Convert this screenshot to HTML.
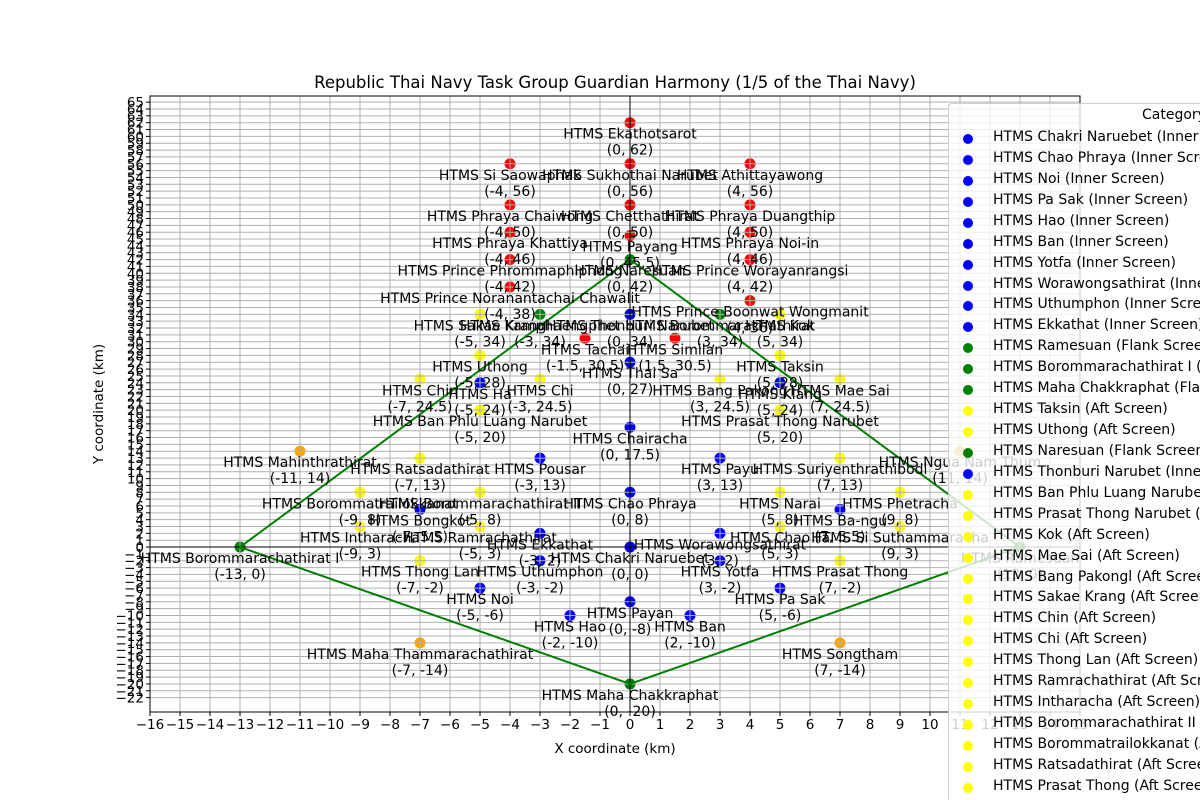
<!DOCTYPE html>
<html><head><meta charset="utf-8">
<style>
body{margin:0;background:#fff;width:1200px;height:800px;overflow:hidden;position:relative;font-family:"DejaVu Sans","Liberation Sans",sans-serif}
svg{position:absolute;left:0;top:0}
#legend{position:absolute;left:948px;top:103px;width:251px;height:696px;overflow:hidden;background:rgba(255,255,255,0.8);border:1px solid #d0d0d0;border-right:none;border-bottom:none;border-radius:4px 0 0 0;font-size:14px;color:#000}
.li{position:absolute;left:0;white-space:nowrap;height:20px}
.li span.dot{position:absolute;left:14px;top:6px;width:10px;height:10px;border-radius:50%}
.li span.t{position:absolute;left:44px;top:1px}
</style></head>
<body>
<svg id="chart" width="1200" height="800"></svg>
<div id="legend">
<div style="position:absolute;left:193px;top:3px">Category</div>
</div>
<script>
const names=["HTMS Ekathotsarot","HTMS Si Saowaphak","HTMS Sukhothai Narubet","HTMS Athittayawong","HTMS Phraya Chaiwong","HTMS Chetthathirat","HTMS Phraya Duangthip","HTMS Phraya Khattiya","HTMS Payang","HTMS Phraya Noi-in","HTMS Prince Phrommaphiphong","HTMS Naresuan","HTMS Prince Worayanrangsi","HTMS Prince Noranantachai Chawalit","HTMS Prince Boonwat Wongmanit","HTMS Sakae Krang","HTMS Kamphaengphet","HTMS Thonburi Narubet","HTMS Borommarachathirat","HTMS Kok","HTMS Tachai","HTMS Similan","HTMS Uthong","HTMS Taksin","HTMS Thai Sa","HTMS Chin","HTMS Ha","HTMS Chi","HTMS Bang Pakong","HTMS Klang","HTMS Mae Sai","HTMS Ban Phlu Luang Narubet","HTMS Prasat Thong Narubet","HTMS Chairacha","HTMS Mahinthrathirat","HTMS Ratsadathirat","HTMS Pousar","HTMS Payu","HTMS Suriyenthrathibodi","HTMS Ngua Nam Thum","HTMS Borommatrailokkanat","HTMS Borommarachathirat II","HTMS Chao Phraya","HTMS Narai","HTMS Phetracha","HTMS Bongkot","HTMS Ba-ngu","HTMS Intharacha","HTMS Ramrachathirat","HTMS Chao Fa","HTMS Si Suthammaracha","HTMS Ekkathat","HTMS Worawongsathirat","HTMS Borommarachathirat I","HTMS Ramesuan","HTMS Chakri Naruebet","HTMS Thong Lan","HTMS Uthumphon","HTMS Yotfa","HTMS Prasat Thong","HTMS Noi","HTMS Pa Sak","HTMS Payan","HTMS Hao","HTMS Ban","HTMS Maha Thammarachathirat","HTMS Songtham","HTMS Maha Chakkraphat"];
const xs=[0,-4,0,4,-4,0,4,-4,0,4,-4,0,4,-4,4,-5,-3,0,3,5,-1.5,1.5,-5,5,0,-7,-5,-3,3,5,7,-5,5,0,-11,-7,-3,3,7,11,-9,-5,0,5,9,-7,7,-9,-5,5,9,-3,3,-13,13,0,-7,-3,3,7,-5,5,0,-2,2,-7,7,0];
const ys=[62,56,56,56,50,50,50,46,45.5,46,42,42,42,38,36,34,34,34,34,34,30.5,30.5,28,28,27,24.5,24,24.5,24.5,24,24.5,20,20,17.5,14,13,13,13,13,14,8,8,8,8,8,5.5,5.5,3,3,3,3,2,2,0,0,0,-2,-2,-2,-2,-6,-6,-8,-10,-10,-14,-14,-20];
const cats=["r","r","r","r","r","r","r","r","r","r","r","g","r","r","r","y","g","b","g","y","r","r","y","y","b","y","b","y","y","b","y","y","y","b","o","y","b","b","y","o","y","y","b","y","y","b","b","y","y","y","y","b","b","g","g","b","y","b","b","y","b","b","b","b","b","o","o","g"];
const screenX=[-13,0,13,0,-13];
const screenY=[0,42,0,-20,0];
const xTicks=[-16,-15,-14,-13,-12,-11,-10,-9,-8,-7,-6,-5,-4,-3,-2,-1,0,1,2,3,4,5,6,7,8,9,10,11,12,13,14,15];
const yTicks=[];for(let v=-22;v<=65;v++)yTicks.push(v);
const legendNames=["HTMS Chakri Naruebet (Inner Screen)","HTMS Chao Phraya (Inner Screen)","HTMS Noi (Inner Screen)","HTMS Pa Sak (Inner Screen)","HTMS Hao (Inner Screen)","HTMS Ban (Inner Screen)","HTMS Yotfa (Inner Screen)","HTMS Worawongsathirat (Inner Screen)","HTMS Uthumphon (Inner Screen)","HTMS Ekkathat (Inner Screen)","HTMS Ramesuan (Flank Screen)","HTMS Borommarachathirat I (Flank Screen)","HTMS Maha Chakkraphat (Flank Screen)","HTMS Taksin (Aft Screen)","HTMS Uthong (Aft Screen)","HTMS Naresuan (Flank Screen)","HTMS Thonburi Narubet (Inner Screen)","HTMS Ban Phlu Luang Narubet (Aft Screen)","HTMS Prasat Thong Narubet (Aft Screen)","HTMS Kok (Aft Screen)","HTMS Mae Sai (Aft Screen)","HTMS Bang Pakongl (Aft Screen)","HTMS Sakae Krang (Aft Screen)","HTMS Chin (Aft Screen)","HTMS Chi (Aft Screen)","HTMS Thong Lan (Aft Screen)","HTMS Ramrachathirat (Aft Screen)","HTMS Intharacha (Aft Screen)","HTMS Borommarachathirat II (Aft Screen)","HTMS Borommatrailokkanat (Aft Screen)","HTMS Ratsadathirat (Aft Screen)","HTMS Prasat Thong (Aft Screen)"];
const legendCats=["b","b","b","b","b","b","b","b","b","b","g","g","g","y","y","g","b","y","y","y","y","y","y","y","y","y","y","y","y","y","y","y"];
const colorMap={r:"#ff0000",g:"#008000",b:"#0000ff",y:"#ffff00",o:"#ffa500"};

const L=150,R=1080,T=96,B=712,X0=-16,X1=15,Y0=-24.1,Y1=65.9;
const sx=v=>L+(v-X0)/(X1-X0)*(R-L);
const sy=v=>B-(v-Y0)/(Y1-Y0)*(B-T);
const NS="http://www.w3.org/2000/svg";
const svg=document.getElementById("chart");
function mk(tag,attrs,parent){const e=document.createElementNS(NS,tag);for(const k in attrs)e.setAttribute(k,attrs[k]);(parent||svg).appendChild(e);return e;}

const title=mk("text",{x:615,y:88,"text-anchor":"middle","font-size":"16.5"});
title.textContent="Republic Thai Navy Task Group Guardian Harmony (1/5 of the Thai Navy)";



const pts=mk("g",{});


for(let i=0;i<xs.length;i++){
  const c=mk("circle",{cx:sx(xs[i]),cy:sy(ys[i]),r:5.5,fill:colorMap[cats[i]]},pts);
  
  
}
const grid=mk("g",{stroke:"#b0b0b0","stroke-width":"1"});


xTicks.forEach(v=>{mk("line",{x1:sx(v),x2:sx(v),y1:T,y2:B},grid);});
yTicks.forEach(v=>{mk("line",{x1:L,x2:R,y1:sy(v),y2:sy(v)},grid);});
const z1=mk("line",{x1:sx(0),x2:sx(0),y1:T,y2:B,stroke:"#000","stroke-width":"1"});


const z2=mk("line",{x1:L,x2:R,y1:sy(0),y2:sy(0),stroke:"#000","stroke-width":"1"});


const poly=mk("polyline",{points:screenX.map((v,i)=>sx(v)+","+sy(screenY[i])).join(" "),fill:"none",stroke:"#008000","stroke-width":"2"});



const labs=mk("g",{"font-size":"14","text-anchor":"middle"});


for(let i=0;i<xs.length;i++){
  const t=mk("text",{x:sx(xs[i]),y:sy(ys[i])+16},labs);t.textContent=names[i];
  
  
  const t2=mk("text",{x:sx(xs[i]),y:sy(ys[i])+32},labs);t2.textContent="("+xs[i]+", "+ys[i]+")";
  
  
}

const frame=mk("rect",{x:L,y:T,width:R-L,height:B-T,fill:"none",stroke:"#000","stroke-width":"1"});



const xax=mk("g",{"font-size":"13.5","text-anchor":"middle"});


xTicks.forEach(v=>{mk("line",{x1:sx(v),x2:sx(v),y1:B,y2:B+4,stroke:"#000"},xax);const t=mk("text",{x:sx(v),y:B+17},xax);t.textContent=String(v).replace("-","\u2212");});
const yax=mk("g",{"font-size":"13.5","text-anchor":"end"});


yTicks.forEach(v=>{mk("line",{x1:L-4,x2:L,y1:sy(v),y2:sy(v),stroke:"#000"},yax);const t=mk("text",{x:L-6,y:sy(v)+5},yax);t.textContent=String(v).replace("-","\u2212");});
const xt=mk("text",{x:615,y:753,"text-anchor":"middle","font-size":"13.5"});xt.textContent="X coordinate (km)";


const yt=mk("text",{x:103,y:404,"text-anchor":"middle","font-size":"13.5",transform:"rotate(-90 103 404)"});yt.textContent="Y coordinate (km)";



const lg=document.getElementById("legend");
legendNames.forEach((n,i)=>{
  const d=document.createElement("div");d.className="li";d.style.top=(24+i*20.93)+"px";
  
  
  d.innerHTML='<span class="dot" style="background:'+colorMap[legendCats[i]]+'"></span><span class="t">'+n+'</span>';
  lg.appendChild(d);
});
</script>
</body></html>
